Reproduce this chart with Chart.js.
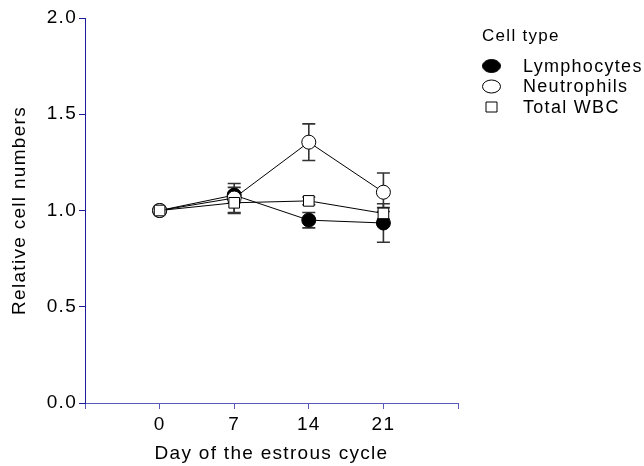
<!DOCTYPE html>
<html><head><meta charset="utf-8">
<script src="https://cdn.jsdelivr.net/npm/chart.js@4"></script>
<style>html,body{margin:0;padding:0;background:#fff}#wrap{width:644px;height:466px}</style>
</head><body><div id="wrap"><canvas id="c" width="644" height="466"></canvas></div>
<script>
const days = [0, 7, 14, 21];
const xTickLabels = ['0', '7', '14', '21'];
const lymphocytes = [1.00, 1.08, 0.95, 0.935];
const lymphocytesErr = [0, 0.04, 0.04, 0.10];
const neutrophils = [1.00, 1.065, 1.355, 1.095];
const neutrophilsErr = [0, 0.075, 0.095, 0.10];
const totalWBC = [1.00, 1.04, 1.05, 0.985];
const totalWBCErr = [0, 0.055, 0.02, 0.03];
const seriesNames = ['Lymphocytes', 'Neutrophils', 'Total WBC'];
const legendTitle = 'Cell type';

const yAxisColor = '#1c1c9c';
const xAxisColor = '#5a5ab8';
const FONT = 'Liberation Sans, Arial, sans-serif';

function pts(ys) { return days.map((d, i) => ({x: d, y: ys[i]})); }

const spacing = {
  id: 'spacing',
  beforeDraw(chart) { try { chart.ctx.letterSpacing = '1.3px'; } catch (e) {} }
};

const errorBars = {
  id: 'errorBars',
  beforeDatasetsDraw(chart) {
    const ctx = chart.ctx, xs = chart.scales.x, ys = chart.scales.y;
    const errs = [lymphocytesErr, neutrophilsErr, totalWBCErr];
    const vals = [lymphocytes, neutrophils, totalWBC];
    ctx.save();
    ctx.strokeStyle = '#333';
    ctx.lineWidth = 1.6;
    errs.forEach((e, s) => {
      days.forEach((d, i) => {
        if (!e[i]) return;
        const px = xs.getPixelForValue(d);
        const t = ys.getPixelForValue(vals[s][i] + e[i]);
        const b = ys.getPixelForValue(vals[s][i] - e[i]);
        ctx.beginPath();
        ctx.moveTo(px, t); ctx.lineTo(px, b);
        ctx.moveTo(px - 6.5, t); ctx.lineTo(px + 6.5, t);
        ctx.moveTo(px - 6.5, b); ctx.lineTo(px + 6.5, b);
        ctx.stroke();
      });
    });
    ctx.restore();
  }
};

const legendPlugin = {
  id: 'customLegend',
  afterDraw(chart) {
    const ctx = chart.ctx;
    ctx.save();
    try { ctx.letterSpacing = '1.3px'; } catch (e) {}
    ctx.fillStyle = '#000';
    ctx.textBaseline = 'middle';
    ctx.textAlign = 'left';
    ctx.font = '17px ' + FONT;
    ctx.fillText(legendTitle, 482, 36);
    ctx.font = '18px ' + FONT;
    const ys = [66, 86.5, 107];
    chart.data.datasets.forEach((ds, i) => {
      const cy = ys[i], cx = 491.5;
      ctx.lineWidth = 1;
      ctx.strokeStyle = '#000';
      ctx.beginPath();
      if (ds.pointStyle === 'rect') {
        ctx.rect(cx - 5.5, cy - 5, 11, 10);
      } else {
        ctx.ellipse(cx, cy, 9, 6.5, 0, 0, Math.PI * 2);
      }
      ctx.fillStyle = ds.pointBackgroundColor;
      ctx.fill();
      ctx.stroke();
      ctx.fillStyle = '#000';
      ctx.fillText(seriesNames[i], 523, cy + 1);
    });
    ctx.restore();
  }
};

new Chart(document.getElementById('c'), {
  type: 'line',
  data: {
    datasets: [
      {label: seriesNames[0], data: pts(lymphocytes), order: 2, borderColor: '#000', borderWidth: 1,
       pointStyle: 'circle', pointRadius: 7, pointBackgroundColor: '#000', pointBorderColor: '#000', pointBorderWidth: 1},
      {label: seriesNames[1], data: pts(neutrophils), order: 1, borderColor: '#000', borderWidth: 1,
       pointStyle: 'circle', pointRadius: 7, pointBackgroundColor: '#fff', pointBorderColor: '#000', pointBorderWidth: 1},
      {label: seriesNames[2], data: pts(totalWBC), order: 0, borderColor: '#000', borderWidth: 1,
       pointStyle: 'rect', pointRadius: 7.5, pointBackgroundColor: '#fff', pointBorderColor: '#000', pointBorderWidth: 1}
    ]
  },
  options: {
    responsive: false,
    animation: false,
    layout: {padding: {top: 18, right: 186, left: 0, bottom: 0}},
    plugins: {legend: {display: false}, tooltip: {enabled: false}},
    scales: {
      x: {
        type: 'linear', min: -7, max: 28,
        afterBuildTicks(s) { s.ticks = [-7, 0, 7, 14, 21, 28].map(v => ({value: v})); },
        afterFit(s) { s.height = 63; },
        ticks: {
          color: '#000', font: {family: FONT, size: 19}, padding: 4, maxRotation: 0,
          callback: v => { const i = days.indexOf(v); return i >= 0 ? xTickLabels[i] : ''; }
        },
        grid: {display: true, drawOnChartArea: false, drawTicks: true, tickLength: 6, color: xAxisColor, lineWidth: 1},
        border: {display: true, color: xAxisColor, width: 1},
        title: {display: true, text: 'Day of the estrous cycle', color: '#000', font: {family: FONT, size: 19}, padding: {top: 0, bottom: 1}}
      },
      y: {
        min: 0, max: 2,
        afterFit(s) { s.width = 85; },
        ticks: {stepSize: 0.5, color: '#000', font: {family: FONT, size: 19}, padding: 2,
          callback: v => v.toFixed(1)},
        grid: {display: true, drawOnChartArea: false, drawTicks: true, tickLength: 6, color: yAxisColor, lineWidth: 1},
        border: {display: true, color: yAxisColor, width: 1},
        title: {display: true, text: 'Relative cell numbers', color: '#000', font: {family: FONT, size: 19}, padding: {top: 8, bottom: 0}}
      }
    }
  },
  plugins: [spacing, errorBars, legendPlugin]
});
</script></body></html>
